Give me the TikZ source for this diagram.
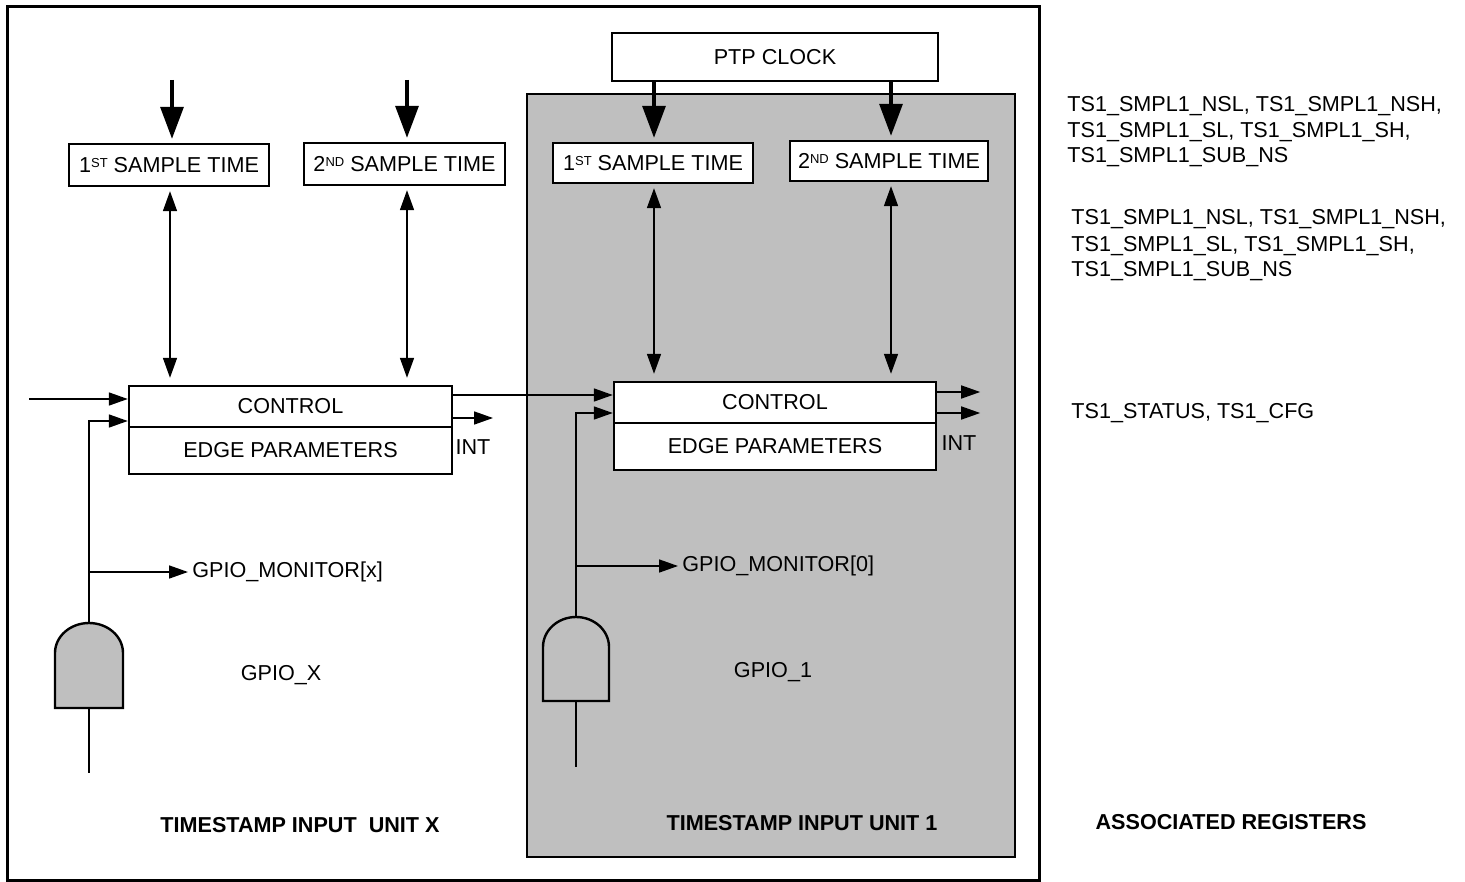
\documentclass[tikz,border=0pt]{standalone}
\usepackage{fontspec}
\setmainfont{Liberation Sans}
\usetikzlibrary{arrows.meta,calc}
\definecolor{unitgray}{RGB}{191,191,191}
\newcommand{\smallsup}[1]{\raisebox{0.45ex}{\fontsize{6.5}{7}\selectfont #1}}
\begin{document}
\begin{tikzpicture}[x=0.5pt,y=-0.5pt,
  font=\fontsize{10.8}{12.75}\selectfont,
  box/.style={draw, line width=1.2pt, fill=white, inner sep=0pt},
  bigarrow/.style={line width=1.65pt, shorten >=2pt, -{Triangle[length=16pt,width=11.5pt]}},
  dblarrow/.style={line width=0.8pt, shorten <=2pt, shorten >=3.5pt,
    {Triangle[length=10pt,width=7pt]}-{Triangle[length=10pt,width=7pt]}},
  arr/.style={line width=0.8pt, -{Triangle[length=9.5pt,width=6.5pt]}},
  wire/.style={line width=0.8pt},
  gate/.style={draw, line width=1.2pt, fill=unitgray},
  lbl/.style={inner sep=0pt},
  title/.style={inner sep=0pt, font=\fontsize{10.8}{12.75}\selectfont\bfseries}]
\useasboundingbox (0,0) rectangle (1465,882);
% frames
\draw[line width=1.5pt] (7,7) rectangle (1039,880);
\draw[line width=1pt, fill=unitgray] (527,94) rectangle (1015,857);

% PTP clock
\node[box, minimum width=163pt, minimum height=24pt] (ptp) at (775,57) {PTP CLOCK};

% sample time boxes
\node[box, minimum width=100pt, minimum height=21pt] (s1L) at (169,165) {1\smallsup{ST} SAMPLE TIME};
\node[box, minimum width=100.5pt, minimum height=21pt] (s2L) at (404.5,164) {2\smallsup{ND} SAMPLE TIME};
\node[box, minimum width=100pt, minimum height=20pt] (s1R) at (653,163) {1\smallsup{ST} SAMPLE TIME};
\node[box, minimum width=99pt, minimum height=20pt] (s2R) at (889,161) {2\smallsup{ND} SAMPLE TIME};

% control blocks
\node[box, minimum width=161.5pt, minimum height=20.5pt] (ctlL) at (290.5,406.5) {CONTROL};
\node[box, minimum width=161.5pt, minimum height=23.5pt] (edgeL) at (290.5,450.5) {EDGE PARAMETERS};
\node[box, minimum width=161pt, minimum height=20.5pt] (ctlR) at (775,402.5) {CONTROL};
\node[box, minimum width=161pt, minimum height=23.5pt] (edgeR) at (775,446.5) {EDGE PARAMETERS};

% top arrows
\coordinate (inS1) at (172,80);
\coordinate (inS2) at (407,80);
\draw[bigarrow] (inS1) -- (inS1 |- s1L.north);
\draw[bigarrow] (inS2) -- (inS2 |- s2L.north);
\draw[bigarrow] (ptp.south -| 654,0) -- (654,0 |- s1R.north);
\draw[bigarrow] (ptp.south -| 891,0) -- (891,0 |- s2R.north);

% double arrows
\draw[dblarrow] (s1L.south -| 170,0) -- (170,0 |- ctlL.north);
\draw[dblarrow] (s2L.south -| 407,0) -- (407,0 |- ctlL.north);
\draw[dblarrow] (s1R.south -| 654,0) -- (654,0 |- ctlR.north);
\draw[dblarrow] (s2R.south -| 891,0) -- (891,0 |- ctlR.north);

% gates
\draw[gate] (55,708) -- (55,653) .. controls (55,636.4) and (70.2,623) .. (89,623)
  .. controls (107.8,623) and (123,636.4) .. (123,653) -- (123,708) -- cycle;
\coordinate (gLt) at (89,623);
\coordinate (gLb) at (89,708);
\coordinate (gLend) at (89,773);
\draw[gate] (543,701) -- (543,647) .. controls (543,630.4) and (557.8,617) .. (576,617)
  .. controls (594.2,617) and (609,630.4) .. (609,647) -- (609,701) -- cycle;
\coordinate (gRt) at (576,617);
\coordinate (gRb) at (576,701);
\coordinate (gRend) at (576,767);
\draw[wire] (gLb) -- (gLend);
\draw[wire] (gRb) -- (gRend);

% left unit connections
\coordinate (inA) at (29,399);
\draw[arr] (inA) -- (inA -| ctlL.west);
\draw[arr] (gLt) |- ([yshift=-7.25pt]ctlL.west);
\coordinate (jL) at (89,572);
\node[lbl, anchor=west] (monL) at (192,572) {GPIO\_MONITOR[x]};
\draw[arr] (jL) -- ([xshift=-2pt]monL.west);
\coordinate (intL) at (493,418);
\draw[arr] ([yshift=-5.75pt]ctlL.east) -- (intL);
\node[lbl] (intLtxt) at (473,447) {INT};

% link between units
\draw[arr] ([yshift=5.75pt]ctlL.east) -- ([yshift=5.75pt]ctlL.east -| ctlR.west);

% right unit connections
\draw[arr] (gRt) |- ([yshift=-5.25pt]ctlR.west);
\coordinate (jR) at (576,566);
\node[lbl, anchor=west] (monR) at (682,566) {GPIO\_MONITOR[0]};
\draw[arr] (jR) -- ([xshift=-2pt]monR.west);
\draw[arr] ([yshift=5.25pt]ctlR.east) -- ++(21.5pt,0) coordinate (outR1);
\draw[arr] ([yshift=-5.25pt]ctlR.east) -- ++(21.5pt,0) coordinate (outR2);
\node[lbl] (intRtxt) at (959,443) {INT};

% labels
\node[lbl] (gpioX) at (281,675) {GPIO\_X};
\node[lbl] (gpio1) at (773,672) {GPIO\_1};
\node[title] (unitX) at (300,825) {TIMESTAMP INPUT\ \ UNIT X};
\node[title] (unit1) at (802,823) {TIMESTAMP INPUT UNIT 1};
\node[title] (assoc) at (1231,822) {ASSOCIATED REGISTERS};

% registers
\node[lbl, anchor=base west] (r1a) at (1067,112) {TS1\_SMPL1\_NSL, TS1\_SMPL1\_NSH,};
\node[lbl, anchor=base west] (r1b) at (1067,138) {TS1\_SMPL1\_SL, TS1\_SMPL1\_SH,};
\node[lbl, anchor=base west] (r1c) at (1067,163) {TS1\_SMPL1\_SUB\_NS};
\node[lbl, anchor=base west] (r2a) at (1071,225) {TS1\_SMPL1\_NSL, TS1\_SMPL1\_NSH,};
\node[lbl, anchor=base west] (r2b) at (1071,251) {TS1\_SMPL1\_SL, TS1\_SMPL1\_SH,};
\node[lbl, anchor=base west] (r2c) at (1071,276) {TS1\_SMPL1\_SUB\_NS};
\node[lbl, anchor=base west] (r3) at (1071,418) {TS1\_STATUS, TS1\_CFG};
\end{tikzpicture}
\end{document}
